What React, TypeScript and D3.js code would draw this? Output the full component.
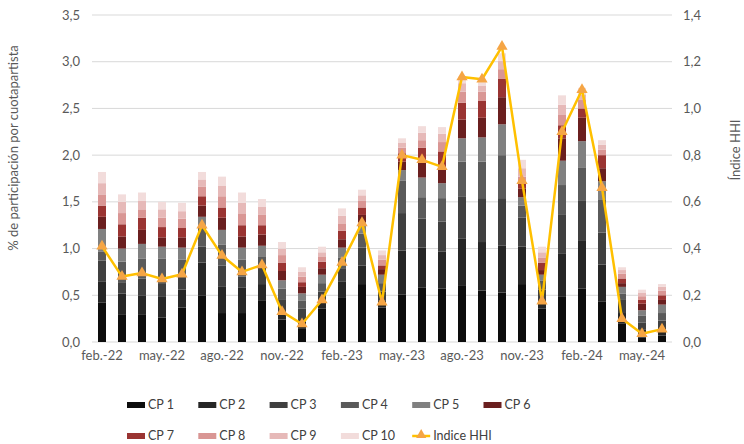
import React from "react";
import * as d3 from "d3";

const months = [
  "feb.-22","mar.-22","abr.-22","may.-22","jun.-22","jul.-22","ago.-22","sep.-22","oct.-22","nov.-22","dic.-22","ene.-23",
  "feb.-23","mar.-23","abr.-23","may.-23","jun.-23","jul.-23","ago.-23","sep.-23","oct.-23","nov.-23","dic.-23","ene.-24",
  "feb.-24","mar.-24","abr.-24","may.-24","jun.-24",
];
const tickLabels = ["feb.-22","may.-22","ago.-22","nov.-22","feb.-23","may.-23","ago.-23","nov.-23","feb.-24","may.-24"];
const seriesNames = ["CP 1","CP 2","CP 3","CP 4","CP 5","CP 6","CP 7","CP 8","CP 9","CP 10"];
const seriesColors = ["#0d0d0d","#262626","#404040","#5a5a5a","#808080","#6a1f1f","#9a3432","#d99694","#e6b9b8","#f2dcdb"];

const cp1 = [0.42,0.29,0.29,0.26,0.37,0.50,0.31,0.31,0.44,0.24,0.14,0.36,0.48,0.62,0.37,0.51,0.58,0.57,0.60,0.55,0.53,0.62,0.36,0.49,0.57,0.43,0.20,0.05,0.07];
const cp2 = [0.23,0.23,0.21,0.23,0.19,0.35,0.28,0.27,0.18,0.07,0.08,0.07,0.17,0.20,0.07,0.47,0.43,0.40,0.51,0.52,0.50,0.40,0.05,0.46,0.52,0.40,0.11,0.08,0.08];
const cp3 = [0.22,0.12,0.18,0.14,0.14,0.17,0.23,0.12,0.20,0.14,0.14,0.11,0.14,0.19,0.10,0.40,0.31,0.32,0.45,0.47,0.51,0.31,0.15,0.41,0.42,0.34,0.14,0.08,0.08];
const cp4 = [0.10,0.22,0.21,0.26,0.18,0.20,0.22,0.18,0.09,0.12,0.08,0.09,0.11,0.15,0.09,0.35,0.23,0.25,0.37,0.39,0.46,0.13,0.10,0.32,0.36,0.35,0.07,0.07,0.08];
const cp5 = [0.24,0.14,0.16,0.13,0.13,0.12,0.16,0.13,0.12,0.09,0.08,0.09,0.11,0.12,0.09,0.11,0.21,0.16,0.25,0.26,0.33,0.09,0.06,0.26,0.28,0.20,0.07,0.06,0.09];
const cp6 = [0.13,0.13,0.15,0.10,0.11,0.12,0.13,0.12,0.12,0.10,0.07,0.07,0.09,0.08,0.06,0.09,0.16,0.16,0.20,0.21,0.29,0.09,0.05,0.24,0.25,0.14,0.04,0.07,0.05];
const cp7 = [0.12,0.13,0.13,0.11,0.10,0.10,0.11,0.12,0.10,0.09,0.05,0.07,0.09,0.08,0.04,0.09,0.16,0.18,0.18,0.18,0.20,0.06,0.08,0.14,0.10,0.14,0.05,0.04,0.05];
const cp8 = [0.12,0.12,0.09,0.10,0.10,0.10,0.12,0.12,0.11,0.08,0.06,0.05,0.08,0.07,0.06,0.06,0.08,0.10,0.12,0.10,0.10,0.07,0.05,0.11,0.09,0.06,0.05,0.04,0.05];
const cp9 = [0.12,0.12,0.09,0.09,0.08,0.08,0.11,0.12,0.09,0.07,0.05,0.05,0.08,0.06,0.05,0.05,0.08,0.09,0.09,0.06,0.09,0.09,0.06,0.11,0.06,0.05,0.04,0.04,0.04];
const cp10 = [0.12,0.08,0.09,0.08,0.09,0.08,0.10,0.11,0.08,0.07,0.05,0.06,0.08,0.06,0.05,0.05,0.07,0.07,0.07,0.04,0.08,0.09,0.06,0.10,0.07,0.05,0.03,0.03,0.03];
const hhi = [0.41,0.28,0.295,0.27,0.29,0.50,0.37,0.30,0.33,0.13,0.077,0.18,0.34,0.51,0.17,0.80,0.78,0.75,1.135,1.125,1.265,0.69,0.175,0.90,1.08,0.66,0.10,0.035,0.055];

const leftTicks = [0, 0.5, 1, 1.5, 2, 2.5, 3, 3.5];
const rightTicks = [0, 0.2, 0.4, 0.6, 0.8, 1.0, 1.2, 1.4];

const series = [cp1, cp2, cp3, cp4, cp5, cp6, cp7, cp8, cp9, cp10];

export default function App() {
  const W = 744, H = 444;
  const left = 92, right = 672, top = 15, bottom = 342;
  const font = "Lato, 'Open Sans', sans-serif";
  const x = d3.scaleBand<string>().domain(months).range([left, right]).paddingInner(0.6).paddingOuter(0.3);
  const y = d3.scaleLinear().domain([0, 3.5]).range([bottom, top]);
  const y2 = d3.scaleLinear().domain([0, 1.4]).range([bottom, top]);
  const fmt = (v: number) => v.toFixed(1).replace(".", ",");

  const rows = months.map((m, i) => {
    const r: any = { m };
    seriesNames.forEach((s, k) => (r[s] = series[k][i]));
    return r;
  });
  const stacked = d3.stack<any>().keys(seriesNames)(rows);
  const cx = (m: string) => (x(m) as number) + x.bandwidth() / 2;
  const line = d3.line<number>().x((_, i) => cx(months[i])).y((d) => y2(d));
  const tri = d3.symbol().type(d3.symbolTriangle).size(55)();

  const legendItems = [...seriesNames.map((s, k) => ({ name: s, color: seriesColors[k], line: false })), { name: "Indice HHI", color: "#FFC000", line: true }];

  return (
    <svg width={W} height={H} style={{ position: "absolute", left: 0, top: 0, background: "#fff" }} fontFamily={font}>
      {leftTicks.map((t) => (
        <g key={t}>
          <line x1={left} x2={right} y1={y(t)} y2={y(t)} stroke="#d9d9d9" strokeWidth={1} />
          <text x={80} y={y(t)} dy="0.35em" textAnchor="end" fontSize={13} fill="#595959">{fmt(t)}</text>
        </g>
      ))}
      {rightTicks.map((t) => (
        <text key={t} x={683} y={y2(t)} dy="0.35em" textAnchor="start" fontSize={13} fill="#595959">{fmt(t)}</text>
      ))}
      {stacked.map((layer, k) => (
        <g key={k} fill={seriesColors[k]}>
          {layer.map((d, i) => (
            <rect key={i} x={x(months[i])} width={x.bandwidth()} y={y(d[1])} height={Math.max(0, y(d[0]) - y(d[1]))} />
          ))}
        </g>
      ))}
      <path d={line(hhi) || ""} fill="none" stroke="#FFC000" strokeWidth={2.5} strokeLinejoin="round" />
      {hhi.map((v, i) => (
        <path key={i} d={tri || ""} transform={`translate(${cx(months[i])},${y2(v)})`} fill="#F5A545" />
      ))}
      {tickLabels.map((t) => (
        <text key={t} x={cx(t)} y={360} textAnchor="middle" fontSize={13} fill="#595959">{t}</text>
      ))}
      <text transform={`translate(18,148) rotate(-90)`} textAnchor="middle" fontSize={13} fill="#595959">% de participación por cuotapartista</text>
      <text transform={`translate(740,150) rotate(-90)`} textAnchor="middle" fontSize={13} fill="#595959">Índice HHI</text>
      {legendItems.map((it, k) => {
        const col = k < 6 ? k : k - 6;
        const row = k < 6 ? 0 : 1;
        const lx = 127 + col * 71.3;
        const ly = row === 0 ? 405 : 436;
        return (
          <g key={it.name}>
            {it.line ? (
              <g>
                <line x1={lx} x2={lx + 18} y1={ly} y2={ly} stroke="#FFC000" strokeWidth={2.5} />
                <path d={d3.symbol().type(d3.symbolTriangle).size(45)() || ""} transform={`translate(${lx + 9},${ly - 1})`} fill="#F5A545" />
              </g>
            ) : (
              <rect x={lx} y={ly - 3} width={18} height={6} fill={it.color} />
            )}
            <text x={lx + 21} y={ly} dy="0.35em" fontSize={12.5} fill="#404040">{it.name}</text>
          </g>
        );
      })}
    </svg>
  );
}
